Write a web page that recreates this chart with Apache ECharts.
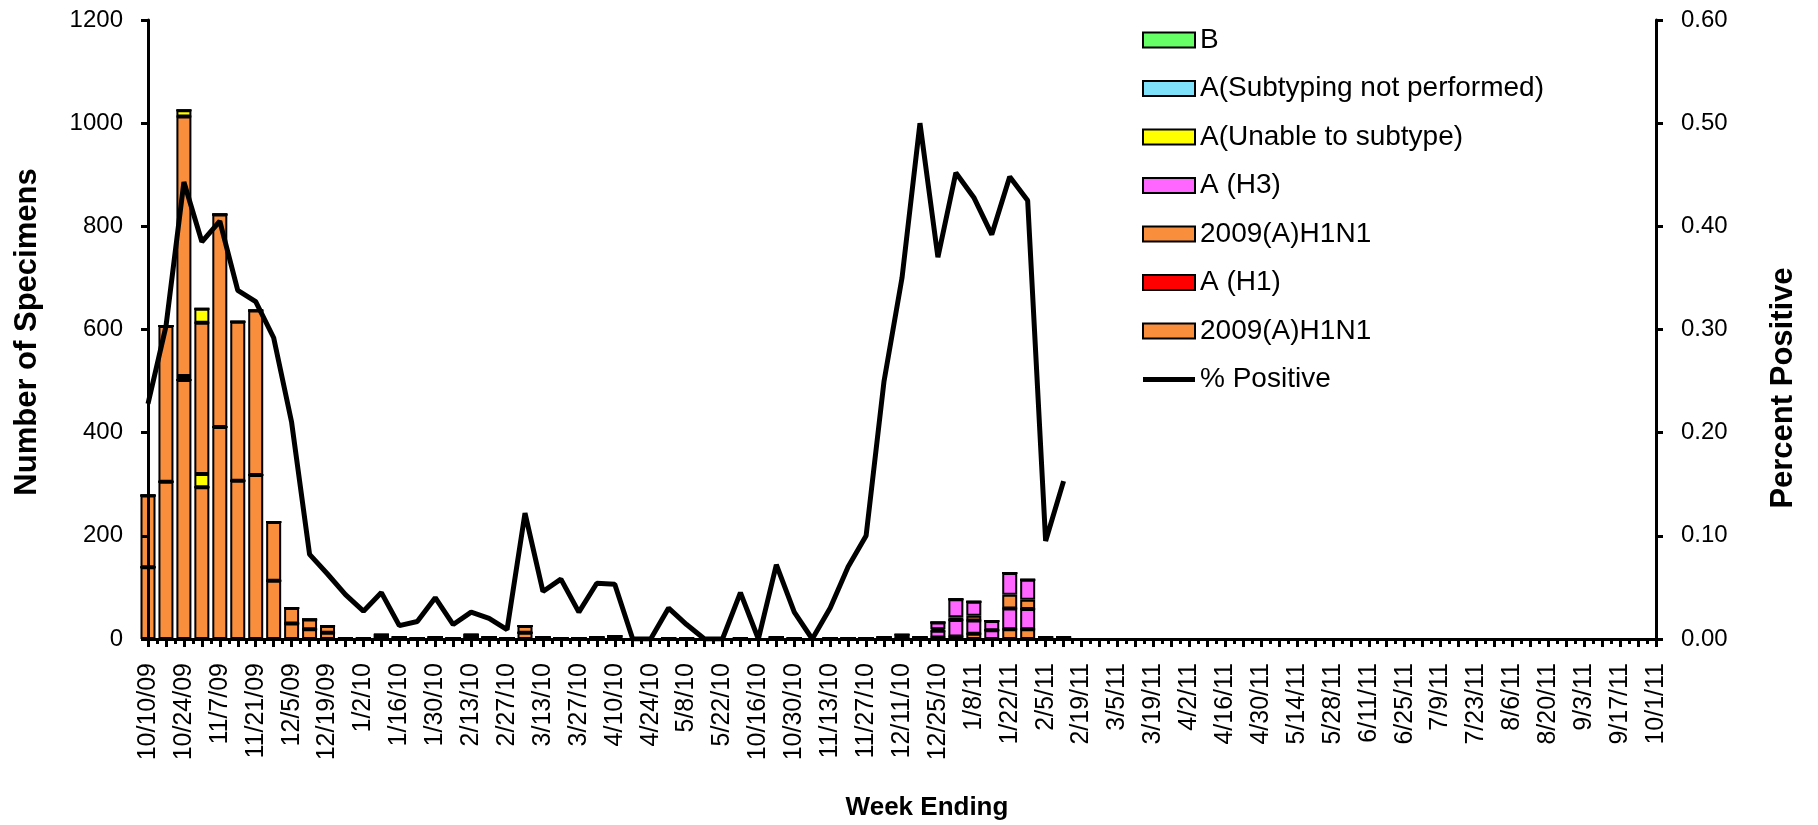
<!DOCTYPE html>
<html>
<head>
<meta charset="utf-8">
<script src="https://cdn.jsdelivr.net/npm/echarts/dist/echarts.min.js"></script>
<style>html,body{margin:0;padding:0;background:#fff}#c{width:1818px;height:825px}</style>
</head>
<body>
<div id="c"></div>
<script>
const weeks = ['10/10/09','10/17/09','10/24/09','10/31/09','11/7/09','11/14/09','11/21/09','11/28/09','12/5/09','12/12/09','12/19/09','12/26/09','1/2/10','1/9/10','1/16/10','1/23/10','1/30/10','2/6/10','2/13/10','2/20/10','2/27/10','3/6/10','3/13/10','3/20/10','3/27/10','4/3/10','4/10/10','4/17/10','4/24/10','5/1/10','5/8/10','5/15/10','5/22/10','10/9/10','10/16/10','10/23/10','10/30/10','11/6/10','11/13/10','11/20/10','11/27/10','12/4/10','12/11/10','12/18/10','12/25/10','1/1/11','1/8/11','1/15/11','1/22/11','1/29/11','2/5/11','2/12/11','2/19/11','2/26/11','3/5/11','3/12/11','3/19/11','3/26/11','4/2/11','4/9/11','4/16/11','4/23/11','4/30/11','5/7/11','5/14/11','5/21/11','5/28/11','6/4/11','6/11/11','6/18/11','6/25/11','7/2/11','7/9/11','7/16/11','7/23/11','7/30/11','8/6/11','8/13/11','8/20/11','8/27/11','9/3/11','9/10/11','9/17/11','9/24/11','10/1/11'];

const h1n1Lower   = [139,305,502,294,411,307,318,113,30,19,12,1,1,4,2,1,2,1,4,2,1,12,2,1,1,2,3,0,0,1,1,0,0,1,0,2,1,0,1,1,1,0,1,1,3,5,10,0,19,19,1,1];
const h1Values    = [0,0,0,0,0,0,0,0,0,0,0,0,0,0,0,0,0,0,0,0,0,0,0,0,0,0,0,0,0,0,0,0,0,0,0,0,0,0,0,0,0,0,0,0,0,0,0,0,0,0,0,0];
const h3Lower     = [0,0,0,0,0,0,0,0,0,0,0,0,0,0,0,0,0,0,0,0,0,0,0,0,0,0,0,0,0,0,0,0,0,0,0,0,0,0,0,0,0,2,3,1,13,32,26,17,40,39,1,1];
const unableLower = [0,0,8,26,0,0,0,0,0,0,0,0,0,0,0,0,0,0,0,0,0,0,0,0,0,0,0,0,0,0,0,0,0,0,0,0,0,0,0,0,0,0,0,0,0,0,0,0,0,0,0,0];
const h1n1Upper   = [139,302,503,293,412,308,319,114,30,19,13,1,1,4,2,1,2,1,4,2,1,13,2,1,1,2,3,0,0,1,1,0,0,1,0,2,1,0,1,1,1,0,1,1,3,5,9,0,27,18,1,1];
const h3Upper     = [0,0,0,0,0,0,0,0,0,0,0,0,0,0,0,0,0,0,0,0,0,0,0,0,0,0,0,0,0,0,0,0,0,0,0,0,0,0,0,0,0,2,3,1,13,35,27,18,42,39,1,1];
const unableUpper = [0,0,12,27,0,0,0,0,0,0,0,0,0,0,0,0,0,0,0,0,0,0,0,0,0,0,0,0,0,0,0,0,0,0,0,0,0,0,0,0,0,0,0,0,0,0,0,0,0,0,0,0];
const notPerformed= [0,0,0,0,0,0,0,0,0,0,0,0,0,0,0,0,0,0,0,0,0,0,0,0,0,0,0,0,0,0,0,0,0,0,0,0,0,0,0,0,0,0,0,0,0,0,0,0,0,0,0,0];
const bValues     = [0,0,0,0,0,0,0,0,0,0,0,0,0,0,0,0,0,0,0,0,0,0,0,0,0,0,0,0,0,0,0,0,0,0,0,0,0,0,0,0,0,0,0,0,0,0,0,0,0,0,0,0];
const pctPositive = [0.228,0.303,0.443,0.385,0.405,0.338,0.327,0.292,0.21,0.082,0.063,0.043,0.027,0.045,0.013,0.017,0.040,0.014,0.026,0.020,0.009,0.122,0.046,0.058,0.026,0.054,0.053,0.000,0.000,0.030,0.014,0.000,0.000,0.045,0.000,0.072,0.026,0.000,0.030,0.070,0.100,0.250,0.350,0.500,0.370,0.452,0.428,0.392,0.448,0.425,0.095,0.153];

const legendNames = ['B','A(Subtyping not performed)','A(Unable to subtype)','A (H3)','2009(A)H1N1 ','A (H1)','2009(A)H1N1','% Positive'];

const FONT = '"Liberation Sans", Arial, Helvetica, sans-serif';
const ORANGE = '#F98E3D', PINK = '#FF66FF', YELLOW = '#FFFF00', GREEN = '#66FF66', CYAN = '#7FE1FA', RED = '#FF0000';

function bar(name, data, color) {
  return {
    name: name, type: 'bar', stack: 'total', data: data, barWidth: 15,
    xAxisIndex: 0, yAxisIndex: 0, z: 2,
    itemStyle: { color: color, borderColor: '#000', borderWidth: 2 },
    emphasis: { disabled: true }
  };
}

const chart = echarts.init(document.getElementById('c'), null, { renderer: 'canvas' });
const option = {
  animation: false,
  backgroundColor: '#fff',
  grid: { left: 148, right: 162, top: 20, bottom: 186, containLabel: false, outerBoundsMode: 'none' },
  legend: {
    orient: 'vertical', left: 1137, top: 21,
    itemWidth: 52, itemHeight: 15, itemGap: 20.5,
    selectedMode: false,
    textStyle: { fontSize: 28, fontFamily: FONT, color: '#000' },
    data: legendNames.map(function (n) {
      return n === '% Positive'
        ? { name: n, icon: 'path://M0,0L52,0L52,5L0,5Z', itemStyle: { color: '#000', borderWidth: 0 } }
        : { name: n, icon: 'rect' };
    })
  },
  xAxis: [
    {
      type: 'category', data: weeks, boundaryGap: false,
      axisLine: { show: true, lineStyle: { color: '#000', width: 3 } },
      axisTick: { show: true, interval: 0, length: 8, lineStyle: { color: '#000', width: 3 } },
      axisLabel: { interval: 1, rotate: 90, margin: 24, fontSize: 25, fontFamily: FONT, color: '#000' },
      splitLine: { show: false }, z: 5
    },
    {
      type: 'value', min: 0, max: 84, interval: 0.5, position: 'bottom',
      axisLine: { show: false },
      axisTick: { show: true, length: 5, lineStyle: { color: '#000', width: 3 } },
      axisLabel: { show: false }, splitLine: { show: false }, z: 5
    }
  ],
  yAxis: [
    {
      type: 'value', min: 0, max: 1200, interval: 200, position: 'left',
      axisLine: { show: true, lineStyle: { color: '#000', width: 3 } },
      axisTick: { show: true, length: 7, lineStyle: { color: '#000', width: 3 } },
      axisLabel: { margin: 25, fontSize: 24, fontFamily: FONT, color: '#000', formatter: function (v) { return String(v); } },
      splitLine: { show: false }, z: 5
    },
    {
      type: 'value', min: 0, max: 0.6, interval: 0.1, position: 'right',
      axisLine: { show: true, lineStyle: { color: '#000', width: 3 } },
      axisTick: { show: true, length: 7, lineStyle: { color: '#000', width: 3 } },
      axisLabel: { margin: 25, fontSize: 24, fontFamily: FONT, color: '#000', formatter: function (v) { return v.toFixed(2); } },
      splitLine: { show: false }, z: 5
    }
  ],
  graphic: [
    { type: 'text', x: 27, y: 332, rotation: Math.PI / 2,
      style: { text: 'Number of Specimens', fill: '#000', font: 'bold 31px ' + FONT, align: 'center', verticalAlign: 'middle', textAlign: 'center', textVerticalAlign: 'middle' } },
    { type: 'text', x: 1783, y: 388, rotation: Math.PI / 2,
      style: { text: 'Percent Positive', fill: '#000', font: 'bold 31px ' + FONT, align: 'center', verticalAlign: 'middle', textAlign: 'center', textVerticalAlign: 'middle' } },
    { type: 'text', x: 927, y: 808,
      style: { text: 'Week Ending', fill: '#000', font: 'bold 26px ' + FONT, align: 'center', verticalAlign: 'middle', textAlign: 'center', textVerticalAlign: 'middle' } }
  ],
  series: [
    bar('2009(A)H1N1', h1n1Lower, ORANGE),
    bar('A (H1)', h1Values, RED),
    bar('A (H3)', h3Lower, PINK),
    bar('A(Unable to subtype)', unableLower, YELLOW),
    bar('2009(A)H1N1 ', h1n1Upper, ORANGE),
    bar('A (H3)', h3Upper, PINK),
    bar('A(Unable to subtype)', unableUpper, YELLOW),
    bar('A(Subtyping not performed)', notPerformed, CYAN),
    bar('B', bValues, GREEN),
    {
      name: '% Positive', type: 'line', data: pctPositive, xAxisIndex: 0, yAxisIndex: 1,
      symbol: 'none', showSymbol: false, z: 10,
      lineStyle: { color: '#000', width: 5 }, itemStyle: { color: '#000' },
      emphasis: { disabled: true }
    }
  ]
};
chart.setOption(option);
</script>
</body>
</html>
